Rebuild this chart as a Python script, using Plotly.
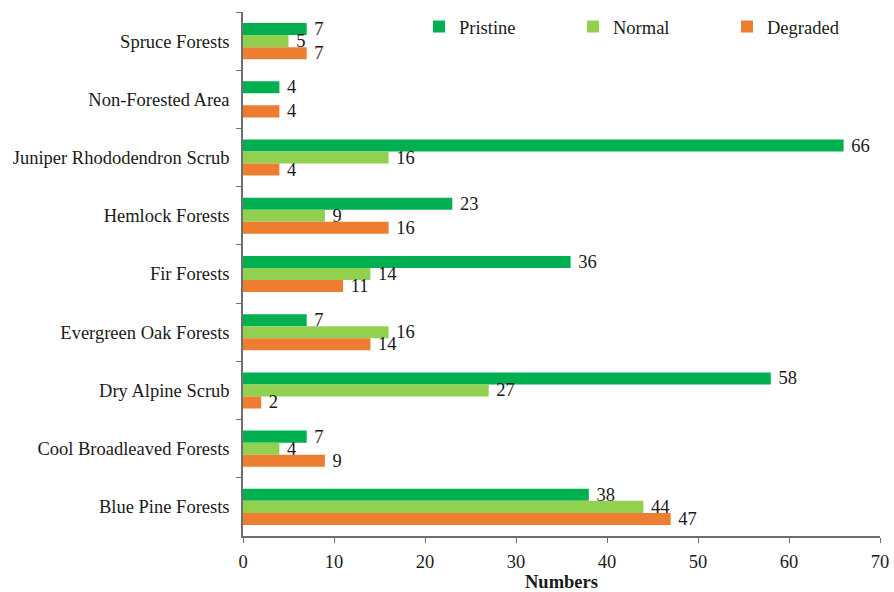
import plotly.graph_objects as go

# Forest types, listed top to bottom
forest_types = [
    "Spruce Forests",
    "Non-Forested Area",
    "Juniper Rhododendron Scrub",
    "Hemlock Forests",
    "Fir Forests",
    "Evergreen Oak Forests",
    "Dry Alpine Scrub",
    "Cool Broadleaved Forests",
    "Blue Pine Forests",
]

pristine = [7, 4, 66, 23, 36, 7, 58, 7, 38]
normal = [5, None, 16, 9, 14, 16, 27, 4, 44]
degraded = [7, 4, 4, 16, 11, 14, 2, 9, 47]

x_ticks = [0, 10, 20, 30, 40, 50, 60, 70]

series = [
    ("Pristine", pristine, "#00B050", "legend", 419),
    ("Normal", normal, "#92D050", "legend2", 573),
    ("Degraded", degraded, "#ED7D31", "legend3", 727),
]

FONT = "Liberation Serif, Times New Roman, serif"
FS = 18.5
TXT = "#1a1a1a"
AXIS = "#6f6f6f"

fig = go.Figure()
for name, vals, color, leg, _ in series:
    fig.add_trace(go.Bar(
        y=forest_types,
        x=vals,
        name=name,
        legend=leg,
        orientation="h",
        marker=dict(color=color, line=dict(width=0)),
        text=[("" if v is None else "\u00a0" + str(v)) for v in vals],
        textposition="outside",
        constraintext="none",
        cliponaxis=False,
        textfont=dict(family=FONT, size=FS, color=TXT),
    ))

legend_style = dict(
    orientation="h",
    xref="container", yref="container",
    yanchor="middle", xanchor="left",
    font=dict(family=FONT, size=FS, color=TXT),
    bgcolor="rgba(0,0,0,0)",
    itemwidth=30,
)
legends = {}
for _, _, _, leg, px in series:
    legends[leg] = dict(legend_style, x=px / 894, y=1 - 27 / 592)

fig.update_layout(
    width=894,
    height=592,
    margin=dict(l=243, r=14, t=12, b=56, autoexpand=False),
    plot_bgcolor="white",
    paper_bgcolor="white",
    barmode="group",
    bargap=0.38,
    bargroupgap=0,
    font=dict(family=FONT, size=FS, color=TXT),
    showlegend=True,
    **legends,
)

fig.update_xaxes(
    range=[0, 70],
    tickvals=x_ticks,
    automargin=False,
    showgrid=False,
    zeroline=False,
    showline=True,
    linecolor=AXIS,
    linewidth=1.5,
    ticks="outside",
    ticklen=5,
    tickcolor=AXIS,
    ticklabelstandoff=3,
    tickfont=dict(family=FONT, size=FS, color=TXT),
    title=dict(text="<b>Numbers</b>", font=dict(family=FONT, size=FS, color=TXT), standoff=4),
)

fig.update_yaxes(
    autorange="reversed",
    type="category",
    automargin=False,
    showgrid=False,
    showline=True,
    linecolor=AXIS,
    linewidth=1.5,
    ticks="outside",
    ticklen=5,
    tickcolor=AXIS,
    tickson="boundaries",
    ticklabelstandoff=8,
    tickfont=dict(family=FONT, size=FS, color=TXT),
)

fig.write_html("out.html")
